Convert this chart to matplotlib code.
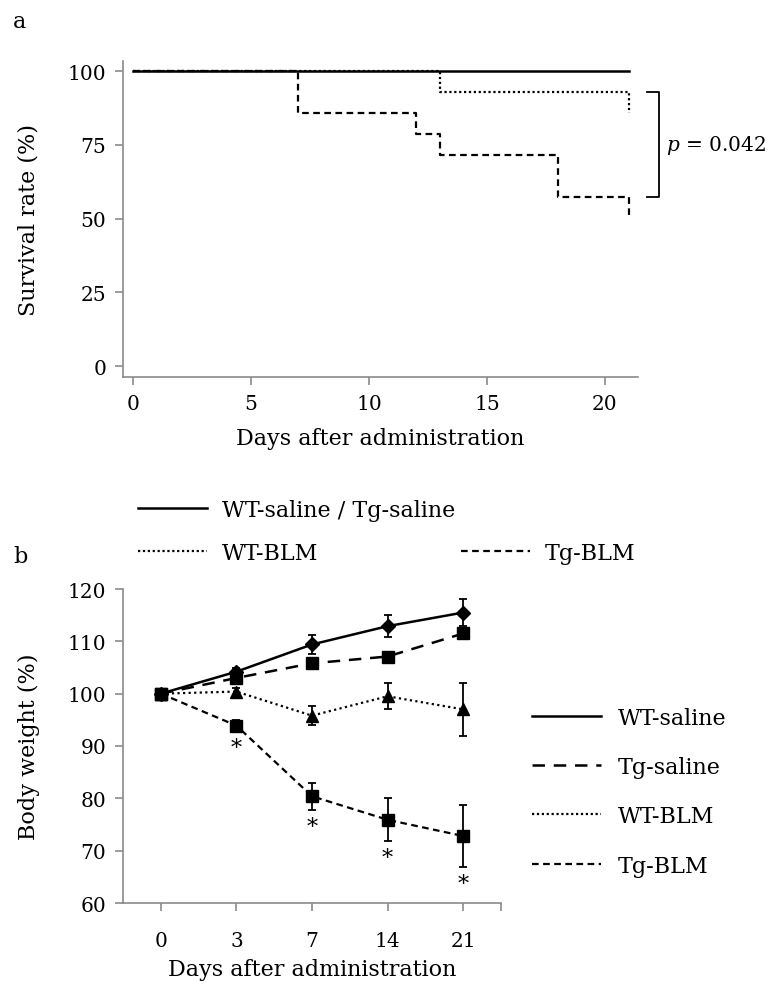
import numpy as np
import matplotlib
matplotlib.use("Agg")
import matplotlib.pyplot as plt
from matplotlib.lines import Line2D

plt.rcParams['font.family'] = ['DejaVu Serif']
plt.rcParams['mathtext.fontset'] = 'dejavuserif'

# ---- panel a: Kaplan-Meier survival (steps) ----
km_days_saline = [0, 21]
km_surv_saline = [100, 100]
km_days_wtblm = [0, 13, 21, 21]
km_surv_wtblm = [100, 92.86, 92.86, 85.71]
km_days_tgblm = [0, 7, 12, 13, 18, 21, 21]
km_surv_tgblm = [100, 85.71, 78.57, 71.43, 57.14, 57.14, 50.0]
p_value = "0.042"

# ---- panel b: body weight ----
day_labels = ["0", "3", "7", "14", "21"]
wt_saline = [100, 104.2, 109.4, 112.9, 115.5]
wt_saline_err = [0, 0.8, 1.8, 2.1, 2.5]
tg_saline = [100, 103.0, 105.8, 107.1, 111.5]
tg_saline_err = [0, 0.6, 0.5, 0.4, 0.9]
wt_blm = [100, 100.4, 95.8, 99.5, 97.0]
wt_blm_err = [0, 0.6, 1.8, 2.5, 5.0]
tg_blm = [100, 93.9, 80.4, 75.9, 72.8]
tg_blm_err = [0, 1.1, 2.6, 4.1, 6.0]
tg_blm_sig = [False, True, True, True, True]

W, H = 773, 987
fig = plt.figure(figsize=(W / 100, H / 100), dpi=100)

FS = 14.5    # tick labels
LFS = 16     # axis labels, legends
SPINE = "#8a8a8a"

SOLID = dict(color="black", lw=1.8, linestyle="-")
DOTTED = dict(color="black", lw=1.6, linestyle=(0, (1, 1.2)))
SHORT_DASH = dict(color="black", lw=1.6, linestyle=(0, (3, 2)))
LONG_DASH = dict(color="black", lw=1.8, linestyle=(0, (5, 3.5)))


def style_axes(ax):
    for s in ["top", "right"]:
        ax.spines[s].set_visible(False)
    for s in ["left", "bottom"]:
        ax.spines[s].set_color(SPINE)
        ax.spines[s].set_linewidth(1.2)
    ax.tick_params(axis="both", direction="out", length=6, width=1.2,
                   color=SPINE, labelsize=FS, pad=6)


def legend_entry(style, label, x_px, y_px, gap=0.68):
    # one-entry legend, handle starting at x_px, row centred on y_px
    h = Line2D([], [], **style)
    fig.legend([h], [label], loc="center left",
               bbox_to_anchor=(x_px / W, 1 - y_px / H),
               frameon=False, fontsize=LFS, handlelength=3.1,
               handletextpad=gap, borderpad=0, borderaxespad=0)


# panel a
axa = fig.add_axes([123 / W, 1 - 378 / H, (638 - 123) / W, (378 - 62) / H])
style_axes(axa)
axa.plot(km_days_saline, km_surv_saline, **SOLID)
axa.plot(km_days_wtblm, km_surv_wtblm, drawstyle="steps-post", **DOTTED)
axa.plot(km_days_tgblm, km_surv_tgblm, drawstyle="steps-post", **SHORT_DASH)
axa.set_xlim(-0.42, 21.4)
axa.set_ylim(-3.7, 103.4)
axa.set_xticks([0, 5, 10, 15, 20])
axa.set_yticks([0, 25, 50, 75, 100])
axa.set_xlabel("Days after administration", fontsize=LFS, labelpad=10)
axa.set_ylabel("Survival rate (%)", fontsize=LFS, labelpad=20)

# bracket between WT-BLM and Tg-BLM
top_v = km_surv_wtblm[1]
bot_v = km_surv_tgblm[4]
bx0, bx1 = 21.78, 22.29
axa.plot([bx0, bx1, bx1, bx0], [top_v, top_v, bot_v, bot_v], color="black",
         lw=1.3, clip_on=False)
axa.text(bx1 + 0.3, (top_v + bot_v) / 2, "$p$ = " + p_value, fontsize=FS,
         va="center", ha="left")

# legend a
legend_entry(SOLID, "WT-saline / Tg-saline", 138, 511)
legend_entry(DOTTED, "WT-BLM", 138, 554)
legend_entry(SHORT_DASH, "Tg-BLM", 461, 554)

fig.text(13 / W, 1 - 22 / H, "a", fontsize=LFS, va="center")
fig.text(13 / W, 1 - 557 / H, "b", fontsize=LFS, va="center")

# panel b
axb = fig.add_axes([123 / W, 1 - 904 / H, (501 - 123) / W, (904 - 590) / H])
style_axes(axb)
x = np.arange(len(day_labels))
eb_kw = dict(ecolor="black", elinewidth=1.3, capsize=2.8, capthick=1.3,
             mfc="black", mec="black")
axb.errorbar(x, wt_saline, yerr=wt_saline_err, marker="D", ms=7,
             **SOLID, **eb_kw)
axb.errorbar(x, tg_saline, yerr=tg_saline_err, marker="s", ms=8.5,
             **LONG_DASH, **eb_kw)
axb.errorbar(x, wt_blm, yerr=wt_blm_err, marker="^", ms=8,
             **dict(DOTTED, linestyle=(0, (1, 1.5))), **eb_kw)
axb.errorbar(x, tg_blm, yerr=tg_blm_err, marker="s", ms=8.5,
             **SHORT_DASH, **eb_kw)
for xi, m, e, s in zip(x, tg_blm, tg_blm_err, tg_blm_sig):
    if s:
        axb.annotate("*", (xi, m - e), xytext=(0, -17),
                     textcoords="offset pixels", ha="center", va="center",
                     fontsize=LFS)
axb.set_xlim(-0.5, 4.5)
axb.set_ylim(60, 120)
axb.set_xticks(list(x) + [4.5])
axb.set_xticklabels(day_labels + [""])
axb.set_yticks(np.arange(60, 121, 10))
axb.tick_params(axis="x", pad=14)
axb.set_xlabel("Days after administration", fontsize=LFS, labelpad=6)
axb.set_ylabel("Body weight (%)", fontsize=LFS, labelpad=20)

# legend b
for style, lab, yc in [(SOLID, "WT-saline", 719), (LONG_DASH, "Tg-saline", 768),
                       (DOTTED, "WT-BLM", 817), (SHORT_DASH, "Tg-BLM", 867)]:
    legend_entry(style, lab, 532, yc, gap=0.78)

fig.savefig("out.png", dpi=100)
